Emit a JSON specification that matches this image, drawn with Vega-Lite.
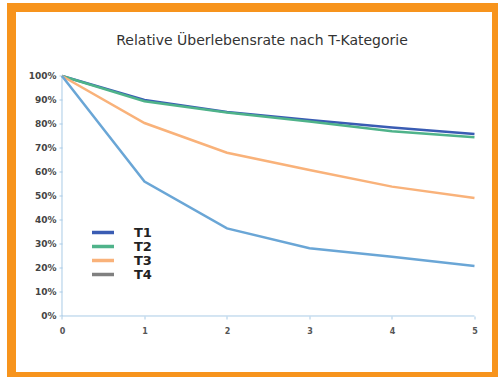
{
  "$schema": "https://vega.github.io/schema/vega-lite/v6.json",
  "autosize": {"type": "none"},
  "padding": {"left": 11.5, "top": 7.5, "right": 1.5, "bottom": 0.5},
  "width": 485,
  "height": 369,
  "background": "#ffffff",
  "config": {
    "view": {"fill": "#ffffff", "stroke": "#F7941D", "strokeWidth": 9},
    "font": "DejaVu Sans"
  },
  "title": {
    "text": "Relative Überlebensrate nach T-Kategorie",
    "fontSize": 14,
    "fontWeight": "normal",
    "color": "#333333",
    "anchor": "middle",
    "orient": "top",
    "baseline": "bottom",
    "offset": -54,
    "dx": 8
  },
  "encoding": {
    "x": {
      "field": "jahr", "type": "quantitative",
      "scale": {"domain": [-0.612, 5.267], "nice": false, "zero": false},
      "axis": {
        "title": null, "values": [0, 1, 2, 3, 4, 5], "format": "d", "grid": false, "domain": false,
        "offset": -60.5, "tickColor": "#a9cbe6", "tickSize": 3, "labelOverlap": false,
        "labelFontSize": 8, "labelColor": "#555555", "labelPadding": 8, "labelFontWeight": "bold"
      }
    },
    "y": {
      "field": "rate", "type": "quantitative",
      "scale": {"domain": [-0.2521, 1.2854], "nice": false, "zero": false},
      "axis": {
        "title": null, "values": [0, 0.1, 0.2, 0.3, 0.4, 0.5, 0.6, 0.7, 0.8, 0.9, 1.0],
        "format": ".0%", "grid": false, "domain": false, "labelOverlap": false,
        "offset": -50.5, "tickColor": "#a9cbe6", "tickSize": 3,
        "labelFontSize": 9, "labelColor": "#444444", "labelPadding": 3, "labelFontWeight": "bold"
      }
    }
  },
  "layer": [
    {
      "data": {"values": [
        {"jahr": 0, "rate": 0, "jahr2": 0, "rate2": 1},
        {"jahr": 0, "rate": 0, "jahr2": 5, "rate2": 0}
      ]},
      "mark": {"type": "rule", "color": "#a9cbe6", "strokeWidth": 1},
      "encoding": {
        "x2": {"field": "jahr2"},
        "y2": {"field": "rate2"}
      }
    },
    {
      "data": {"values": [
        {"jahr": 0, "rate": 1.0, "kat": "T1"},
        {"jahr": 1, "rate": 0.9, "kat": "T1"},
        {"jahr": 2, "rate": 0.85, "kat": "T1"},
        {"jahr": 3, "rate": 0.817, "kat": "T1"},
        {"jahr": 4, "rate": 0.785, "kat": "T1"},
        {"jahr": 5, "rate": 0.758, "kat": "T1"},
        {"jahr": 0, "rate": 1.0, "kat": "T2"},
        {"jahr": 1, "rate": 0.895, "kat": "T2"},
        {"jahr": 2, "rate": 0.848, "kat": "T2"},
        {"jahr": 3, "rate": 0.81, "kat": "T2"},
        {"jahr": 4, "rate": 0.77, "kat": "T2"},
        {"jahr": 5, "rate": 0.745, "kat": "T2"},
        {"jahr": 0, "rate": 1.0, "kat": "T3"},
        {"jahr": 1, "rate": 0.804, "kat": "T3"},
        {"jahr": 2, "rate": 0.68, "kat": "T3"},
        {"jahr": 3, "rate": 0.608, "kat": "T3"},
        {"jahr": 4, "rate": 0.539, "kat": "T3"},
        {"jahr": 5, "rate": 0.492, "kat": "T3"},
        {"jahr": 0, "rate": 1.0, "kat": "T4"},
        {"jahr": 1, "rate": 0.56, "kat": "T4"},
        {"jahr": 2, "rate": 0.365, "kat": "T4"},
        {"jahr": 3, "rate": 0.282, "kat": "T4"},
        {"jahr": 4, "rate": 0.247, "kat": "T4"},
        {"jahr": 5, "rate": 0.208, "kat": "T4"}
      ]},
      "mark": {"type": "line", "strokeWidth": 2.5},
      "encoding": {
        "color": {
          "condition": {"test": "datum.kat === 'T4'", "value": "#6aa6d6"},
          "field": "kat", "type": "nominal",
          "scale": {"domain": ["T1", "T2", "T3", "T4"], "range": ["#3a5cb3", "#4fb38a", "#f9b27a", "#808080"]},
          "legend": {
            "title": null,
            "orient": "none",
            "legendX": 80.5,
            "legendY": 214,
            "fillColor": "#ffffff",
            "padding": 4,
            "symbolType": "M-2.2,0L2.2,0",
            "symbolStrokeWidth": 3.5,
            "symbolSize": 100,
            "rowPadding": -1,
            "labelFontSize": 13,
            "labelFontWeight": "bold",
            "labelColor": "#222222",
            "labelOffset": 24
          }
        }
      }
    }
  ]
}
